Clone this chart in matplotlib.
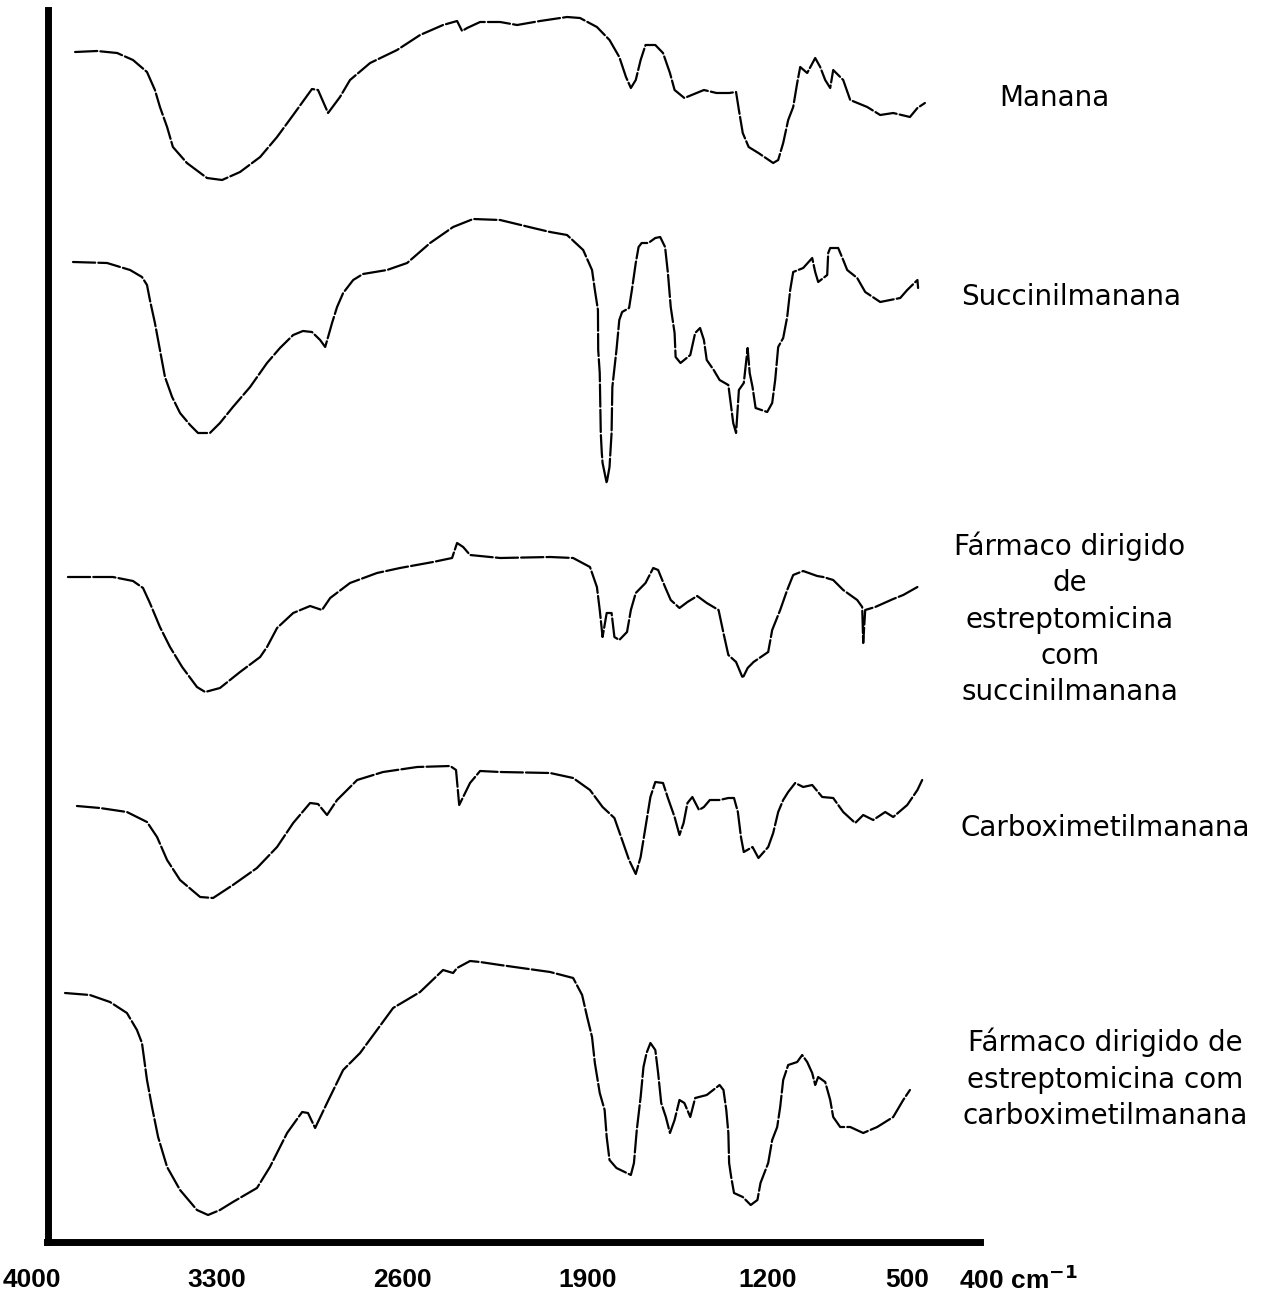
import numpy as np
import matplotlib
matplotlib.use("Agg")
import matplotlib.pyplot as plt

# ---- data: FTIR spectra (wavenumber in cm-1, stacked transmittance, arbitrary units)
manana_wn = [3837, 3754, 3678, 3618, 3565, 3535, 3516, 3489, 3467, 3414, 3338, 3281,
             3213, 3137, 3073, 3012, 2941, 2918, 2880, 2835, 2797, 2721, 2619, 2532,
             2445, 2392, 2373, 2354, 2305, 2229, 2165, 2078, 1976, 1927, 1862, 1813,
             1775, 1749, 1730, 1711, 1692, 1673, 1635, 1605, 1578, 1560, 1522, 1446,
             1397, 1348, 1321, 1310, 1295, 1272, 1234, 1170, 1145, 1120, 1095, 1070,
             1050, 1035, 1000, 960, 935, 910, 885, 870, 820, 785, 700, 635, 570, 496,
             485, 474]
manana_t = [1190, 1191, 1189, 1182, 1170, 1152, 1135, 1115, 1095, 1079, 1064, 1062,
            1070, 1085, 1105, 1127, 1153, 1152, 1129, 1145, 1162, 1179, 1192, 1207,
            1217, 1221, 1211, 1214, 1220, 1220, 1217, 1221, 1225, 1224, 1215, 1202,
            1185, 1165, 1154, 1162, 1182, 1197, 1197, 1189, 1169, 1152, 1144, 1152,
            1149, 1149, 1150, 1132, 1109, 1095, 1089, 1079, 1082, 1099, 1122, 1135,
            1159, 1175, 1169, 1184, 1175, 1162, 1154, 1172, 1162, 1142, 1135, 1127,
            1129, 1125, 1134, 1139]

succ_wn = [3845, 3716, 3629, 3584, 3565, 3554, 3535, 3516, 3497, 3470, 3440, 3402,
           3372, 3327, 3289, 3240, 3175, 3111, 3062, 3012, 2975, 2941, 2910, 2891,
           2880, 2865, 2846, 2823, 2785, 2748, 2657, 2581, 2494, 2407, 2331, 2229,
           2104, 2040, 1976, 1915, 1881, 1870, 1858, 1857, 1851, 1847, 1843, 1840,
           1824, 1813, 1805, 1802, 1786, 1775, 1764, 1737, 1726, 1711, 1700, 1688,
           1662, 1635, 1616, 1597, 1586, 1575, 1560, 1556, 1537, 1499, 1480, 1461,
           1446, 1435, 1408, 1385, 1351, 1340, 1332, 1321, 1310, 1291, 1276, 1268,
           1257, 1245, 1200, 1175, 1160, 1145, 1120, 1100, 1085, 1070, 1020, 975,
           960, 945, 900, 895, 885, 845, 820, 800, 750, 710, 635, 535, 500, 485, 484]
succ_t = [980, 979, 972, 965, 957, 942, 919, 892, 865, 845, 829, 817,
          809, 809, 819, 835, 855, 879, 894, 907, 911, 910, 902, 895,
          905, 919, 935, 949, 962, 968, 972, 979, 999, 1015, 1023, 1022,
          1014, 1010, 1007, 992, 972, 952, 932, 892, 869, 809, 789, 779,
          759, 775, 809, 855, 892, 922, 930, 934, 952, 979, 995, 999,
          999, 1004, 1005, 995, 969, 935, 909, 885, 879, 887, 909, 914,
          902, 882, 872, 862, 857, 835, 819, 809, 852, 859, 894, 869,
          855, 834, 830, 839, 862, 895, 904, 925, 952, 970, 974, 984,
          970, 960, 967, 989, 994, 994, 982, 972, 964, 950, 940, 944, 952, 962, 954]

fsucc_wn = [3864, 3694, 3618, 3580, 3554, 3516, 3478, 3432, 3376, 3345, 3289, 3213,
            3137, 3111, 3073, 3012, 2948, 2903, 2872, 2797, 2695, 2608, 2483, 2411,
            2392, 2369, 2343, 2229, 2040, 1953, 1889, 1862, 1851, 1840, 1824, 1805,
            1794, 1775, 1745, 1730, 1711, 1673, 1643, 1624, 1597, 1575, 1541, 1510,
            1472, 1435, 1389, 1370, 1351, 1321, 1295, 1276, 1253, 1195, 1175, 1135,
            1100, 1070, 1020, 950, 920, 870, 820, 750, 725, 720, 710, 660, 570, 520, 485]
fsucc_t = [665, 665, 661, 654, 639, 615, 595, 575, 555, 550, 554, 570,
           585, 595, 614, 629, 636, 632, 644, 659, 669, 674, 680, 684,
           699, 695, 687, 684, 685, 684, 675, 655, 632, 605, 629, 629,
           605, 602, 610, 632, 649, 659, 674, 672, 655, 642, 634, 640,
           646, 639, 632, 609, 587, 580, 564, 574, 580, 590, 612, 632,
           652, 667, 671, 666, 665, 662, 652, 642, 635, 599, 632, 635, 643, 647, 655]

carb_wn = [3830, 3743, 3641, 3565, 3527, 3489, 3440, 3364, 3315, 3240, 3149, 3073,
           3012, 2948, 2918, 2884, 2846, 2770, 2672, 2543, 2418, 2396, 2384, 2369,
           2343, 2305, 2229, 2040, 1953, 1889, 1840, 1794, 1764, 1737, 1711, 1692,
           1673, 1654, 1635, 1605, 1586, 1560, 1541, 1525, 1510, 1491, 1465, 1446,
           1423, 1385, 1351, 1329, 1314, 1302, 1291, 1257, 1234, 1195, 1170, 1145,
           1120, 1095, 1060, 1020, 975, 925, 870, 820, 760, 720, 670, 610, 570, 500,
           485, 478]
carb_t = [436, 434, 430, 420, 405, 382, 362, 345, 344, 357, 374, 395,
          419, 439, 438, 427, 442, 462, 470, 475, 476, 472, 437, 445,
          459, 471, 470, 469, 464, 452, 435, 424, 402, 382, 368, 385,
          415, 445, 460, 459, 444, 425, 407, 419, 439, 445, 432, 435,
          442, 442, 444, 444, 430, 405, 390, 395, 384, 395, 409, 430,
          442, 450, 459, 455, 457, 445, 444, 430, 419, 427, 422, 430, 425, 437,
          452, 462]

fcarb_wn = [3875, 3781, 3705, 3641, 3603, 3584, 3565, 3546, 3523, 3489, 3440, 3376,
            3334, 3289, 3240, 3149, 3100, 3035, 2978, 2956, 2929, 2884, 2823, 2759,
            2695, 2634, 2532, 2445, 2407, 2392, 2343, 2305, 2229, 2040, 1953, 1919,
            1900, 1881, 1870, 1851, 1832, 1824, 1813, 1786, 1730, 1718, 1707, 1692,
            1681, 1669, 1654, 1635, 1624, 1612, 1594, 1578, 1560, 1541, 1522, 1499,
            1480, 1435, 1385, 1370, 1359, 1351, 1348, 1340, 1329, 1295, 1264, 1238,
            1226, 1195, 1175, 1150, 1135, 1120, 1095, 1050, 1025, 1000, 975, 960,
            945, 910, 885, 870, 835, 785, 720, 650, 570, 520, 496]
fcarb_t = [249, 247, 240, 229, 212, 199, 162, 135, 105, 75, 52, 32,
           27, 32, 40, 54, 75, 109, 130, 129, 114, 139, 172, 189,
           212, 234, 250, 272, 269, 274, 281, 280, 277, 270, 264, 247,
           225, 205, 179, 149, 132, 105, 82, 74, 67, 79, 112, 145,
           175, 189, 199, 192, 169, 139, 125, 109, 122, 142, 139, 125,
           144, 147, 157, 152, 132, 109, 79, 65, 49, 45, 37, 42,
           59, 79, 102, 115, 135, 162, 177, 180, 187, 180, 169, 157,
           165, 160, 142, 125, 115, 115, 109, 115, 125, 142, 152]

series = [
    (manana_wn, manana_t, "Manana"),
    (succ_wn, succ_t, "Succinilmanana"),
    (fsucc_wn, fsucc_t, "Fármaco dirigido\nde\nestreptomicina\ncom\nsuccinilmanana"),
    (carb_wn, carb_t, "Carboximetilmanana"),
    (fcarb_wn, fcarb_t, "Fármaco dirigido de\nestreptomicina com\ncarboximetilmanana"),
]

tick_values = [4000, 3300, 2600, 1900, 1200, 500]
tick_labels = ["4000", "3300", "2600", "1900", "1200", "500"]

# the printed wavenumber axis is not linear below 1200 cm-1
scale_wn = np.array([300, 400, 500, 1200, 1900, 2600, 3300, 4000, 4200])
scale_pos = np.array([1043, 975, 907, 767, 587, 402, 217, 32, -21], dtype=float)


def fwd(x):
    return np.interp(x, scale_wn, -scale_pos)


def inv(y):
    return np.interp(y, -scale_pos, scale_wn)


W, H = 1275, 1298
fig = plt.figure(figsize=(W / 100, H / 100), dpi=100)
ax = fig.add_axes([32 / W, 56 / H, 948 / W, 1232 / H])
ax.set_xscale("function", functions=(fwd, inv))
ax.set_xlim(4000, 393)
ax.set_ylim(0, 1232)

for wn, t, name in series:
    ax.plot(wn, t, color="black", lw=1.6, linestyle=(0, (10, 1.4)),
            solid_capstyle="round", dash_capstyle="round")

# axes: thick left and bottom lines only
for s in ["top", "right"]:
    ax.spines[s].set_visible(False)
ax.spines["left"].set_position(("data", 3940))
ax.spines["left"].set_linewidth(5)
ax.spines["bottom"].set_linewidth(5)
ax.spines["bottom"].set_bounds(3945, 393)
ax.set_xticks([])
ax.set_yticks([])
ax.patch.set_alpha(0)

tick_font = dict(family=["Liberation Sans Narrow", "Liberation Sans", "DejaVu Sans"],
                 fontweight="bold", fontsize=19)
for v, lab in zip(tick_values, tick_labels):
    ax.annotate(lab, xy=(v, 0), xycoords=("data", "axes fraction"),
                xytext=(0, -27.5), textcoords="offset points",
                ha="center", va="center", annotation_clip=False, **tick_font)
ax.annotate("400 cm$^{\\mathbf{-1}}$", xy=(400, 0), xycoords=("data", "axes fraction"),
            xytext=(-12, -27.5), textcoords="offset points",
            ha="left", va="center", annotation_clip=False, **tick_font)

# sample names on the right
label_pos = [(1054, 98), (1071, 297), (1070, 619), (1105, 828), (1105, 1079)]
for (wn, t, name), (px, py) in zip(series, label_pos):
    fig.text(px / W, 1 - py / H, name, ha="center", va="center", fontsize=20,
             family="DejaVu Sans", linespacing=1.38, multialignment="center")

fig.savefig("out.png", dpi=100, facecolor="white")
